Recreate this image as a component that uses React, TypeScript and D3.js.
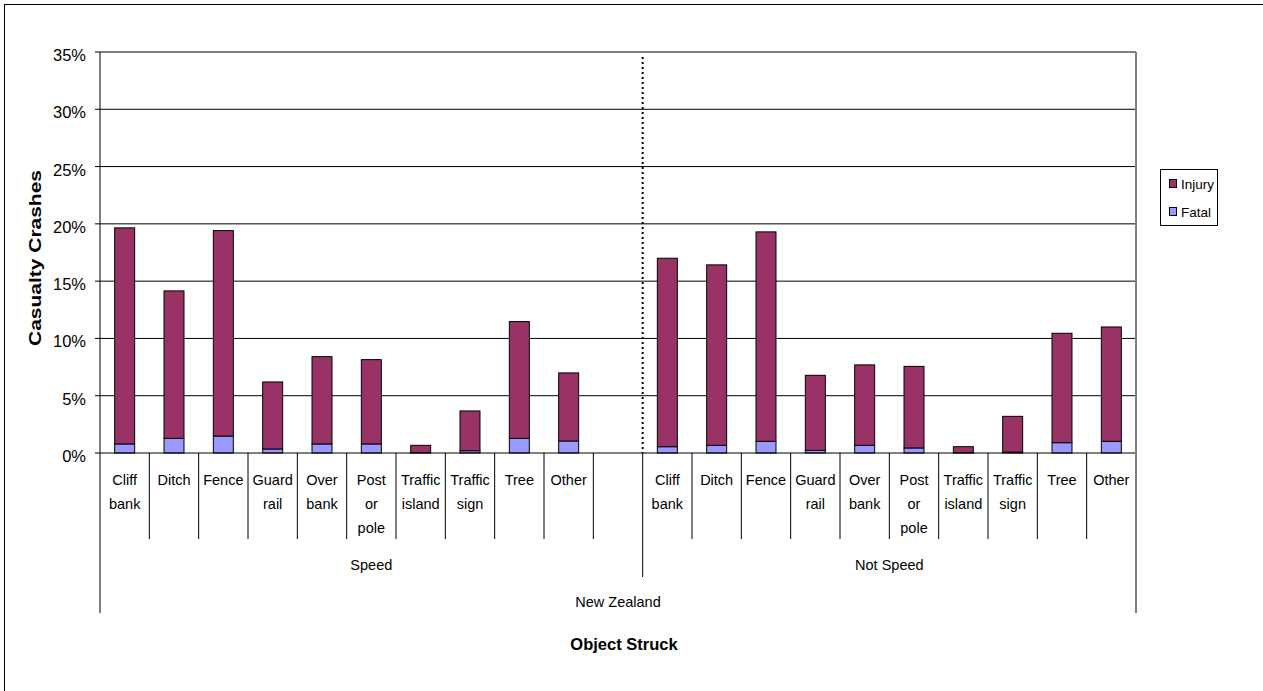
import React from "react";
import * as d3 from "d3";

const categories = ["Cliff bank", "Ditch", "Fence", "Guard rail", "Over bank", "Post or pole", "Traffic island", "Traffic sign", "Tree", "Other"];
const categoryLines = [["Cliff", "bank"], ["Ditch"], ["Fence"], ["Guard", "rail"], ["Over", "bank"], ["Post", "or", "pole"], ["Traffic", "island"], ["Traffic", "sign"], ["Tree"], ["Other"]];
const groups = ["Speed", "Not Speed"];
const speedFatal = [0.79, 1.28, 1.48, 0.35, 0.79, 0.79, 0.03, 0.2, 1.28, 1.05];
const speedInjury = [18.86, 12.87, 17.93, 5.85, 7.62, 7.36, 0.64, 3.47, 10.19, 5.94];
const notSpeedFatal = [0.55, 0.67, 1.02, 0.23, 0.67, 0.44, 0.03, 0.08, 0.9, 1.02];
const notSpeedInjury = [16.45, 15.75, 18.28, 6.55, 7.02, 7.12, 0.52, 3.12, 9.55, 9.98];
const yTicks = [0, 5, 10, 15, 20, 25, 30, 35];
const seriesNames = ["Injury", "Fatal"];
const colors = { Injury: "#993366", Fatal: "#9999FF" };

const FONT = "'Liberation Sans', Arial, sans-serif";

export default function App() {
  // slots: Speed 10 categories + 1 empty, Not Speed 10 categories
  const slots: { key: string; group: number; cat: number | null }[] = [];
  categories.forEach((c, i) => slots.push({ key: `S-${c}`, group: 0, cat: i }));
  slots.push({ key: "S-empty", group: 0, cat: null });
  categories.forEach((c, i) => slots.push({ key: `N-${c}`, group: 1, cat: i }));

  const x = d3.scaleBand<string>().domain(slots.map((s) => s.key)).range([100, 1136]).padding(0);
  const y = d3.scaleLinear().domain([0, 35]).range([453, 52]);
  const bw = x.bandwidth();
  const barW = bw * 0.405;

  const rows = slots
    .filter((s) => s.cat !== null)
    .map((s) => {
      const i = s.cat as number;
      const fatal = s.group === 0 ? speedFatal[i] : notSpeedFatal[i];
      const injury = s.group === 0 ? speedInjury[i] : notSpeedInjury[i];
      return { key: s.key, Fatal: fatal, Injury: injury };
    });
  const stack = d3.stack<any>().keys(["Fatal", "Injury"])(rows);

  const groupStart = [x(slots[0].key)!, x("N-" + categories[0])!];
  const groupEnd = [x("N-" + categories[0])!, 1136];

  return (
    <svg width={1263} height={691} style={{ position: "absolute", left: 0, top: 0, background: "#fff" }} fontFamily={FONT}>
      <rect x={4.5} y={4.5} width={1400} height={900} fill="#fff" stroke="#000" strokeWidth={1} />
      {/* gridlines */}
      {yTicks.filter((t) => t > 0).map((t) => (
        <line key={t} x1={100} x2={1136} y1={y(t)} y2={y(t)} stroke="#000" strokeWidth={1} />
      ))}
      {/* y ticks and labels */}
      {yTicks.map((t) => (
        <g key={"yt" + t}>
          <line x1={95} x2={100} y1={y(t)} y2={y(t)} stroke="#000" />
          <text x={86} y={y(t) + 9} textAnchor="end" fontSize={16.5} fill="#000">{`${t}%`}</text>
        </g>
      ))}
      {/* dotted separator */}
      <line x1={groupEnd[0]} x2={groupEnd[0]} y1={57} y2={453} stroke="#000" strokeWidth={2} strokeDasharray="2,3" />
      {/* bars */}
      {stack.map((layer) =>
        layer.map((d: any) => (
          <rect
            key={layer.key + d.data.key}
            x={x(d.data.key)! + (bw - barW) / 2}
            y={y(d[1])}
            width={barW}
            height={y(d[0]) - y(d[1])}
            fill={(colors as any)[layer.key]}
            stroke="#000"
            strokeWidth={1}
          />
        ))
      )}
      {/* x axis line */}
      <line x1={100} x2={1136} y1={453} y2={453} stroke="#000" />
      {/* left axis */}
      <line x1={100} x2={100} y1={52} y2={613} stroke="#000" />
      {/* right border */}
      <line x1={1136} x2={1136} y1={52} y2={613} stroke="#808080" strokeWidth={2} />
      {/* category separators */}
      {slots.slice(1).map((s) => {
        const xv = x(s.key)!;
        const isGroup = s.key === "N-" + categories[0];
        return <line key={"sep" + s.key} x1={xv} x2={xv} y1={453} y2={isGroup ? 577 : 539} stroke="#000" />;
      })}
      {/* category labels */}
      {slots.filter((s) => s.cat !== null).map((s) => (
        <text key={"lbl" + s.key} textAnchor="middle" fontSize={14.5} fill="#000">
          {categoryLines[s.cat as number].map((ln, j) => (
            <tspan key={j} x={x(s.key)! + bw / 2} y={485 + j * 24}>{ln}</tspan>
          ))}
        </text>
      ))}
      {/* group labels */}
      {groups.map((g, i) => (
        <text key={g} x={(groupStart[i] + groupEnd[i]) / 2} y={570} textAnchor="middle" fontSize={14.5} fill="#000">{g}</text>
      ))}
      <text x={618} y={607} textAnchor="middle" fontSize={14.5} fill="#000">New Zealand</text>
      {/* axis titles */}
      <text x={624} y={650} textAnchor="middle" fontSize={16.5} fontWeight="bold" fill="#000">Object Struck</text>
      <text transform="translate(41,258) rotate(-90)" textAnchor="middle" fontSize={17} fontWeight="bold" fill="#000" textLength={176} lengthAdjust="spacingAndGlyphs">Casualty Crashes</text>
      {/* legend */}
      <rect x={1160.5} y={169.5} width={57} height={56} fill="#fff" stroke="#000" strokeWidth={1} />
      {seriesNames.map((n, i) => (
        <g key={n}>
          <rect x={1169.5} y={179.5 + i * 28} width={7} height={8} fill={(colors as any)[n]} stroke="#000" />
          <text x={1181} y={189 + i * 28} fontSize={13.5} fill="#000">{n}</text>
        </g>
      ))}
    </svg>
  );
}
